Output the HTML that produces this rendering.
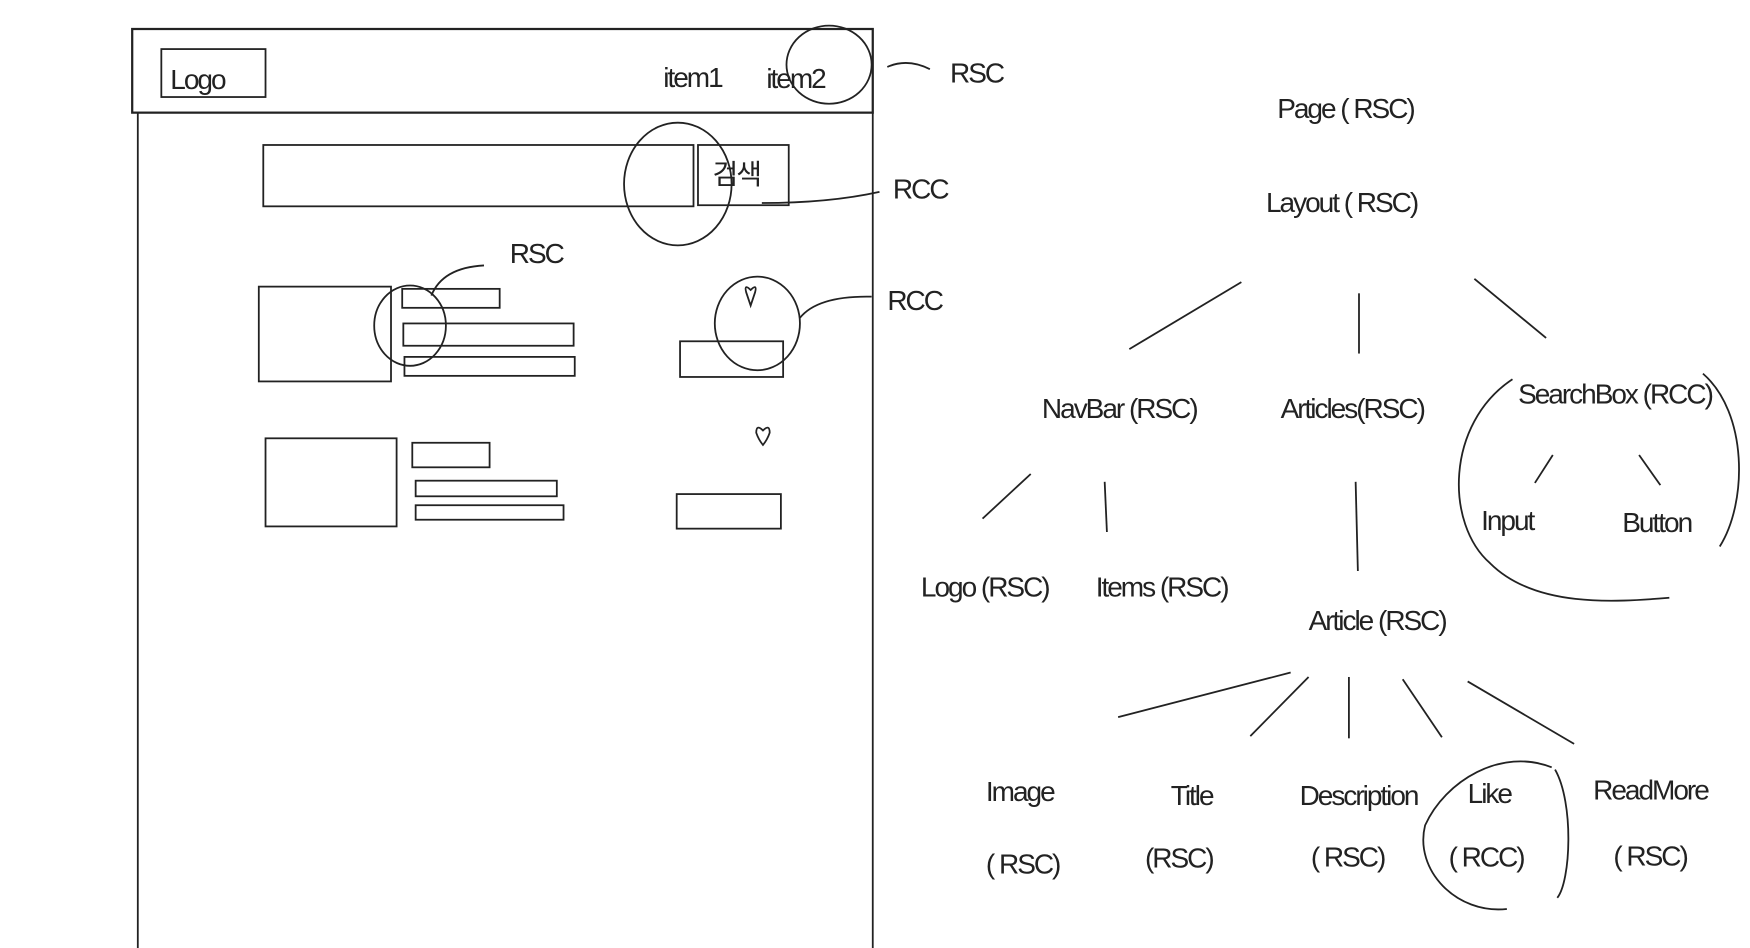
<!DOCTYPE html>
<html><head><meta charset="utf-8"><style>
html,body{margin:0;padding:0;background:#fff;width:1750px;height:948px;overflow:hidden}
svg{display:block}
text{font-family:"Liberation Sans",sans-serif;fill:#222;font-size:25px;letter-spacing:-1.8px}
</style></head><body>
<svg width="1750" height="948" viewBox="0 0 1562 850" preserveAspectRatio="none" fill="none" stroke="#222" stroke-width="1.6">
<rect x="118" y="26" width="661" height="75" stroke-width="2"/>
<line x1="123" y1="101" x2="123" y2="850"/>
<line x1="779" y1="101" x2="779" y2="850"/>
<rect x="144" y="44" width="93" height="43"/>
<text x="152" y="80" stroke="none" font-size="28">Logo</text>
<text x="592" y="78" stroke="none" font-size="24">item1</text>
<text x="684" y="79" stroke="none" font-size="24">item2</text>
<ellipse cx="740" cy="58" rx="38" ry="35"/>
<path d="M792 60 Q810 52 830 62"/>
<text x="848" y="74" stroke="none">RSC</text>
<rect x="235" y="130" width="384" height="55"/>
<rect x="623" y="130" width="81" height="54"/>
<text x="636" y="165" stroke="none" font-size="22">검색</text>
<ellipse cx="605" cy="165" rx="48" ry="55"/>
<path d="M680 182 Q740 182 785 172"/>
<text x="797" y="178" stroke="none">RCC</text>
<text x="455" y="236" stroke="none">RSC</text>
<path d="M432 238 Q395 240 385 265"/>
<ellipse cx="366" cy="292" rx="32" ry="36"/>
<rect x="231" y="257" width="118" height="85"/>
<rect x="359" y="259" width="87" height="17"/>
<rect x="360" y="290" width="152" height="20"/>
<rect x="361" y="320" width="152" height="17"/>
<ellipse cx="676" cy="290" rx="38" ry="42"/>
<path d="M670 260 q-6 -6 -4 2 q2 6 4 12 q2 -6 4 -12 q2 -8 -4 -2z"/>
<path d="M714 285 Q730 265 778 266"/>
<text x="792" y="278" stroke="none">RCC</text>
<rect x="607" y="306" width="92" height="32"/>
<rect x="237" y="393" width="117" height="79"/>
<rect x="368" y="397" width="69" height="22"/>
<rect x="371" y="431" width="126" height="14"/>
<rect x="371" y="453" width="132" height="13"/>
<path d="M681 386 q-6 -6 -6 2 q2 6 6 11 q4 -5 6 -11 q0 -8 -6 -2z"/>
<rect x="604" y="443" width="93" height="31"/>
<g stroke="none">
<text x="1140" y="106">Page ( RSC)</text>
<text x="1130" y="190">Layout ( RSC)</text>
<text x="930" y="375">NavBar (RSC)</text>
<text x="1143" y="375">Articles(RSC)</text>
<text x="1355" y="362">SearchBox (RCC)</text>
<text x="1322" y="475">Input</text>
<text x="1448" y="477">Button</text>
<text x="822" y="535">Logo (RSC)</text>
<text x="978" y="535">Items (RSC)</text>
<text x="1168" y="565">Article (RSC)</text>
<text x="880" y="718">Image</text>
<text x="1045" y="722">Title</text>
<text x="1160" y="722">Description</text>
<text x="1310" y="720">Like</text>
<text x="1422" y="717">ReadMore</text>
<text x="880" y="783">( RSC)</text>
<text x="1022" y="778">(RSC)</text>
<text x="1170" y="777">( RSC)</text>
<text x="1293" y="777">( RCC)</text>
<text x="1440" y="776">( RSC)</text>
</g>
<line x1="1108" y1="253" x2="1008" y2="313"/>
<line x1="1213" y1="263" x2="1213" y2="317"/>
<line x1="1316" y1="250" x2="1380" y2="303"/>
<path d="M1350 340 C1290 380 1290 470 1330 505 C1370 545 1440 540 1490 536"/>
<path d="M1520 335 C1560 370 1560 450 1535 490"/>
<line x1="1386" y1="408" x2="1370" y2="433"/>
<line x1="1463" y1="408" x2="1482" y2="435"/>
<line x1="920" y1="425" x2="877" y2="465"/>
<line x1="986" y1="432" x2="988" y2="477"/>
<line x1="1210" y1="432" x2="1212" y2="512"/>
<line x1="1152" y1="603" x2="998" y2="643"/>
<line x1="1168" y1="607" x2="1116" y2="660"/>
<line x1="1204" y1="607" x2="1204" y2="662"/>
<line x1="1252" y1="609" x2="1287" y2="661"/>
<line x1="1310" y1="611" x2="1405" y2="667"/>
<path d="M1385 688 C1340 670 1290 700 1272 740 C1262 780 1300 820 1345 815"/>
<path d="M1388 690 C1405 720 1402 790 1390 805"/>
</svg>
</body></html>
